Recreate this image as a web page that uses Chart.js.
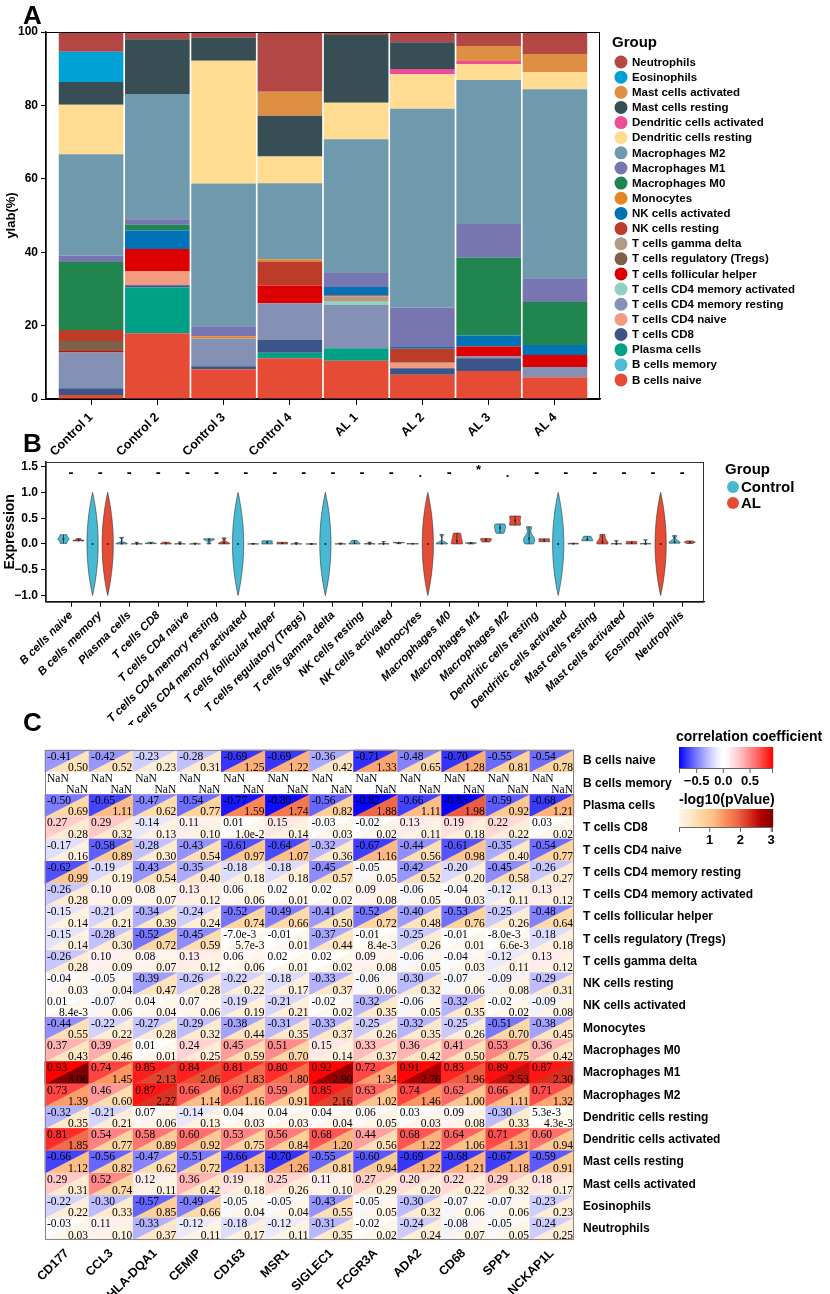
<!DOCTYPE html>
<html lang="en">
<head>
<meta charset="UTF-8" />
<title>Immune cell infiltration</title>
<script src="https://cdn.jsdelivr.net/npm/chart.js@4.4.1/dist/chart.umd.min.js"></script>
<style>
  body { margin: 0; background: #fff; }
  #wrap { position: relative; width: 830px; height: 1294px; overflow: hidden; }
  canvas { position: absolute; left: 0; }
  .tag { position: absolute; left: 23px; font: bold 26px/1 "Liberation Sans", Arial, sans-serif; color: #000; }
</style>
</head>
<body>
<div id="wrap">
  <canvas id="chartA" width="830" height="470" style="top:0"></canvas>
  <canvas id="chartB" width="830" height="285" style="top:440px"></canvas>
  <canvas id="chartC" width="830" height="569" style="top:725px"></canvas>
  <div class="tag" style="top:2px">A</div>
  <div class="tag" style="top:430px">B</div>
  <div class="tag" style="top:709px">C</div>
</div>
<script>
// ---------- data ----------
const samples = ['Control 1', 'Control 2', 'Control 3', 'Control 4', 'AL 1', 'AL 2', 'AL 3', 'AL 4'];
const cellTypes = ['B cells naive', 'B cells memory', 'Plasma cells', 'T cells CD8', 'T cells CD4 naive',
  'T cells CD4 memory resting', 'T cells CD4 memory activated', 'T cells follicular helper',
  'T cells regulatory (Tregs)', 'T cells gamma delta', 'NK cells resting', 'NK cells activated',
  'Monocytes', 'Macrophages M0', 'Macrophages M1', 'Macrophages M2', 'Dendritic cells resting',
  'Dendritic cells activated', 'Mast cells resting', 'Mast cells activated', 'Eosinophils', 'Neutrophils'];

// percent of each sample (order as samples)
const bCellsNaive     = [1.1, 17.9, 8.1, 11.1, 10.4, 6.6, 7.6, 5.9];
const bCellsMemory    = [0, 0, 0, 0, 0, 0, 0, 0];
const plasmaCells     = [0, 12.5, 0, 1.5, 3.4, 0, 0, 0];
const tCellsCD8       = [1.8, 0.6, 0.8, 3.5, 0, 1.8, 3.5, 0];
const tCD4Naive       = [0, 3.9, 0, 0, 0, 1.5, 0, 0];
const tCD4MemResting  = [9.8, 0, 7.6, 10.0, 11.8, 0, 0.5, 2.8];
const tCD4MemActive   = [0, 0, 0, 0, 0.9, 0, 0, 0];
const tFollicular     = [0.4, 6.0, 0, 4.8, 0, 0, 2.7, 3.3];
const tRegs           = [2.7, 0, 0, 0, 0, 0.2, 0, 0];
const tGammaDelta     = [0, 0, 0, 0, 1.5, 0, 0, 0];
const nkResting       = [3.0, 0, 0, 6.6, 0.3, 3.6, 0, 0];
const nkActivated     = [0, 5.0, 0, 0, 2.2, 0.5, 3.0, 2.7];
const monocytes       = [0, 0, 0.6, 0.6, 0, 0, 0, 0];
const macroM0         = [18.5, 1.6, 0, 0, 0, 0, 21.2, 11.7];
const macroM1         = [1.8, 1.5, 2.7, 0, 3.8, 10.7, 9.2, 6.5];
const macroM2         = [27.6, 34.1, 38.9, 20.7, 36.5, 54.2, 39.2, 51.5];
const dcResting       = [13.5, 0, 33.5, 7.3, 9.9, 9.4, 4.4, 4.6];
const dcActivated     = [0, 0, 0, 0, 0, 1.4, 0.8, 0];
const mastResting     = [6.2, 14.9, 6.2, 11.1, 18.5, 7.3, 0, 0];
const mastActivated   = [0, 0, 0, 6.5, 0, 0, 4.1, 5.0];
const eosinophils     = [8.2, 0, 0, 0, 0, 0, 0, 0];
const neutrophils     = [5.5, 1.9, 1.5, 16.2, 0.9, 3.0, 3.9, 5.9];

const cellData = [bCellsNaive, bCellsMemory, plasmaCells, tCellsCD8, tCD4Naive, tCD4MemResting,
  tCD4MemActive, tFollicular, tRegs, tGammaDelta, nkResting, nkActivated, monocytes, macroM0,
  macroM1, macroM2, dcResting, dcActivated, mastResting, mastActivated, eosinophils, neutrophils];

const cellColors = ['#E64B35', '#4DBBD5', '#00A087', '#3C5488', '#F39B7F', '#8491B4', '#91D1C2',
  '#DC0000', '#7E6148', '#B09C85', '#BC3C29', '#0072B5', '#E18727', '#20854E', '#7876B1',
  '#6F99AD', '#FFDC91', '#EE4C97', '#374E55', '#DF8F44', '#00A1D5', '#B24745'];

const yTicksA = [0, 20, 40, 60, 80, 100];
const yTicksB = [-1.0, -0.5, 0.0, 0.5, 1.0, 1.5];
const sigMarks = ['-', '-', '-', '-', '-', '-', '-', '-', '-', '-', '-', '-', '.', '-', '*', '.', '-', '-', '-', '-', '-', '-'];

const genes = ['CD177', 'CCL3', 'HLA-DQA1', 'CEMIP', 'CD163', 'MSR1', 'SIGLEC1', 'FCGR3A', 'ADA2', 'CD68', 'SPP1', 'NCKAP1L'];
const N = null;
const corrValues = [
  [-0.41, -0.42, -0.23, -0.28, -0.69, -0.69, -0.36, -0.71, -0.48, -0.70, -0.55, -0.54],
  [N, N, N, N, N, N, N, N, N, N, N, N],
  [-0.50, -0.65, -0.47, -0.54, -0.77, -0.80, -0.56, -0.82, -0.66, -0.83, -0.59, -0.68],
  [0.27, 0.29, -0.14, 0.11, 0.01, 0.15, -0.03, -0.02, 0.13, 0.19, 0.22, 0.03],
  [-0.17, -0.58, -0.28, -0.43, -0.61, -0.64, -0.32, -0.67, -0.44, -0.61, -0.35, -0.54],
  [-0.62, -0.19, -0.43, -0.35, -0.18, -0.18, -0.45, -0.05, -0.42, -0.20, -0.45, -0.26],
  [-0.26, 0.10, 0.08, 0.13, 0.06, 0.02, 0.02, 0.09, -0.06, -0.04, -0.12, 0.13],
  [-0.15, -0.21, -0.34, -0.24, -0.52, -0.49, -0.41, -0.52, -0.40, -0.53, -0.25, -0.48],
  [-0.15, -0.28, -0.52, -0.45, -0.007, -0.01, -0.37, -0.01, -0.25, -0.01, -0.008, -0.18],
  [-0.26, 0.10, 0.08, 0.13, 0.06, 0.02, 0.02, 0.09, -0.06, -0.04, -0.12, 0.13],
  [-0.04, -0.05, -0.39, -0.26, -0.22, -0.18, -0.33, -0.06, -0.30, -0.07, -0.09, -0.29],
  [0.01, -0.07, 0.04, 0.07, -0.19, -0.21, -0.02, -0.32, -0.06, -0.32, -0.02, -0.09],
  [-0.44, -0.22, -0.27, -0.29, -0.38, -0.31, -0.33, -0.25, -0.32, -0.25, -0.51, -0.38],
  [0.37, 0.39, 0.01, 0.24, 0.45, 0.51, 0.15, 0.33, 0.36, 0.41, 0.53, 0.36],
  [0.93, 0.74, 0.85, 0.84, 0.81, 0.80, 0.92, 0.72, 0.91, 0.83, 0.89, 0.87],
  [0.73, 0.46, 0.87, 0.66, 0.67, 0.59, 0.85, 0.63, 0.74, 0.62, 0.66, 0.71],
  [-0.32, -0.21, 0.07, -0.14, 0.04, 0.04, 0.04, 0.06, 0.03, 0.09, -0.30, 0.0053],
  [0.81, 0.54, 0.58, 0.60, 0.53, 0.56, 0.68, 0.44, 0.68, 0.64, 0.71, 0.60],
  [-0.66, -0.56, -0.47, -0.51, -0.66, -0.70, -0.55, -0.60, -0.69, -0.68, -0.67, -0.59],
  [0.29, 0.52, 0.12, 0.36, 0.19, 0.25, 0.11, 0.27, 0.20, 0.22, 0.29, 0.18],
  [-0.22, -0.30, -0.57, -0.49, -0.05, -0.05, -0.43, -0.05, -0.30, -0.07, -0.07, -0.23],
  [-0.03, 0.11, -0.33, -0.12, -0.18, -0.12, -0.31, -0.02, -0.24, -0.08, -0.05, -0.24]
];
// -log10(p)
const pValues = [
  [0.50, 0.52, 0.23, 0.31, 1.25, 1.22, 0.42, 1.33, 0.65, 1.28, 0.81, 0.78],
  [N, N, N, N, N, N, N, N, N, N, N, N],
  [0.69, 1.11, 0.62, 0.77, 1.59, 1.74, 0.82, 1.88, 1.11, 1.98, 0.92, 1.21],
  [0.28, 0.32, 0.13, 0.10, 0.00996, 0.14, 0.03, 0.02, 0.11, 0.18, 0.22, 0.02],
  [0.16, 0.89, 0.30, 0.54, 0.97, 1.07, 0.36, 1.16, 0.56, 0.98, 0.40, 0.77],
  [0.99, 0.19, 0.54, 0.40, 0.18, 0.18, 0.57, 0.05, 0.52, 0.20, 0.58, 0.27],
  [0.28, 0.09, 0.07, 0.12, 0.06, 0.01, 0.02, 0.08, 0.05, 0.03, 0.11, 0.12],
  [0.14, 0.21, 0.39, 0.24, 0.74, 0.66, 0.50, 0.72, 0.48, 0.76, 0.26, 0.64],
  [0.14, 0.30, 0.72, 0.59, 0.0057, 0.01, 0.44, 0.0084, 0.26, 0.01, 0.0066, 0.18],
  [0.28, 0.09, 0.07, 0.12, 0.06, 0.01, 0.02, 0.08, 0.05, 0.03, 0.11, 0.12],
  [0.03, 0.04, 0.47, 0.28, 0.22, 0.17, 0.37, 0.06, 0.32, 0.06, 0.08, 0.31],
  [0.0084, 0.06, 0.04, 0.06, 0.19, 0.21, 0.02, 0.35, 0.05, 0.35, 0.02, 0.08],
  [0.55, 0.22, 0.28, 0.32, 0.44, 0.35, 0.37, 0.26, 0.35, 0.26, 0.70, 0.45],
  [0.43, 0.46, 0.01, 0.25, 0.59, 0.70, 0.14, 0.37, 0.42, 0.50, 0.75, 0.42],
  [3.06, 1.45, 2.13, 2.06, 1.83, 1.80, 2.90, 1.34, 2.76, 1.96, 2.53, 2.30],
  [1.39, 0.60, 2.27, 1.14, 1.16, 0.91, 2.16, 1.02, 1.46, 1.00, 1.11, 1.32],
  [0.35, 0.21, 0.06, 0.13, 0.03, 0.03, 0.04, 0.05, 0.03, 0.08, 0.33, 0.0043],
  [1.85, 0.77, 0.89, 0.92, 0.75, 0.84, 1.20, 0.56, 1.22, 1.06, 1.31, 0.94],
  [1.12, 0.82, 0.62, 0.72, 1.13, 1.26, 0.81, 0.94, 1.22, 1.21, 1.18, 0.91],
  [0.31, 0.74, 0.11, 0.42, 0.18, 0.26, 0.10, 0.29, 0.20, 0.22, 0.32, 0.17],
  [0.22, 0.33, 0.85, 0.66, 0.04, 0.04, 0.55, 0.05, 0.32, 0.06, 0.06, 0.23],
  [0.03, 0.10, 0.37, 0.11, 0.17, 0.11, 0.35, 0.02, 0.24, 0.07, 0.05, 0.25]
];
const corrTicks = [-0.5, 0.0, 0.5];
const pTicks = [1, 2, 3];

// ---------- helpers ----------
const FAM = '"Liberation Sans", Arial, sans-serif';
Chart.defaults.font.family = FAM;
Chart.defaults.color = '#000';
const bold = (size, style) => ({ family: FAM, size: size, weight: 'bold', style: style || 'normal' });

const CORR_MIN = -0.83, CORR_MAX = 0.93, P_MAX = 3.06;
function corrColor(v) {
  if (v === null) return '#ffffff';
  if (v < 0) {
    const t = Math.pow(Math.min(1, -v / -CORR_MIN), 1.3);
    const c = Math.round(255 * (1 - t));
    return 'rgb(' + c + ',' + c + ',255)';
  }
  const t = Math.pow(Math.min(1, v / CORR_MAX), 1.3);
  const c = Math.round(255 * (1 - t));
  return 'rgb(255,' + c + ',' + c + ')';
}
const orRd = [[255,247,236],[254,232,200],[253,212,158],[253,187,132],[252,141,89],[239,101,72],[215,48,31],[179,0,0],[127,0,0]];
function pColor(v) {
  if (v === null) return '#ffffff';
  const t = Math.max(0, Math.min(1, v / P_MAX)) * (orRd.length - 1);
  const i = Math.min(orRd.length - 2, Math.floor(t)), f = t - i;
  const c = orRd[i].map((a, j) => Math.round(a + (orRd[i + 1][j] - a) * f));
  return 'rgb(' + c.join(',') + ')';
}
function fmt(v) {
  if (v === null) return 'NaN';
  if (v !== 0 && Math.abs(v) < 0.01) return v.toExponential(1);
  return v.toFixed(2);
}
function bwNrd0(xs) {
  const n = xs.length;
  const mean = xs.reduce((a, b) => a + b, 0) / n;
  const sd = Math.sqrt(xs.reduce((a, b) => a + (b - mean) * (b - mean), 0) / (n - 1));
  const s = xs.slice().sort((a, b) => a - b);
  const q = p => { const h = (n - 1) * p, lo = Math.floor(h); const nx = lo + 1 < n ? s[lo + 1] : s[lo]; return s[lo] + (h - lo) * (nx - s[lo]); };
  let lo = Math.min(sd, (q(0.75) - q(0.25)) / 1.34);
  if (!lo) lo = sd || 1;
  return 0.9 * lo * Math.pow(n, -0.2);
}

// ---------- panel A ----------
const frameA = {
  id: 'frameA',
  afterDraw(chart) {
    const { ctx, chartArea: a } = chart;
    ctx.save();
    ctx.strokeStyle = '#000';
    ctx.lineWidth = 1;
    ctx.strokeRect(a.left, a.top + 0.5, a.right - a.left - 0.5, a.bottom - a.top);
    // legend
    ctx.textBaseline = 'middle';
    ctx.fillStyle = '#000';
    ctx.font = 'bold 15px ' + FAM;
    ctx.fillText('Group', 612, 43);
    ctx.font = 'bold 11.5px ' + FAM;
    for (let i = 0; i < cellTypes.length; i++) {
      const k = cellTypes.length - 1 - i;
      const y = 62 + i * 15.14;
      ctx.beginPath();
      ctx.arc(621, y, 6.5, 0, Math.PI * 2);
      ctx.fillStyle = cellColors[k];
      ctx.fill();
      ctx.fillStyle = '#000';
      ctx.fillText(cellTypes[k], 632, y + 0.5);
    }
    ctx.restore();
  }
};

new Chart(document.getElementById('chartA'), {
  type: 'bar',
  data: {
    datasets: cellTypes.map((name, i) => ({
      label: name,
      data: cellData[i].map((v, j) => ({ x: j, y: v })),
      backgroundColor: cellColors[i],
      borderWidth: 0,
      categoryPercentage: 1,
      barPercentage: 0.975
    }))
  },
  options: {
    responsive: false,
    animation: false,
    events: [],
    layout: { padding: { left: 0, top: 32, right: 230, bottom: 0 } },
    plugins: { legend: { display: false }, tooltip: { enabled: false } },
    scales: {
      x: {
        type: 'linear', stacked: true, offset: false, min: -0.68, max: 7.68,
        afterBuildTicks: s => { s.ticks = samples.map((_, i) => ({ value: i })); },
        ticks: { autoSkip: false, minRotation: 45, maxRotation: 45, padding: 5, font: bold(12.5), color: '#000',
          callback: v => samples[v] },
        grid: { drawOnChartArea: false, offset: false, tickLength: 6, color: '#000' },
        border: { color: '#000', width: 1.5 },
        afterFit: s => { s.height = 71; }
      },
      y: {
        stacked: true, min: 0, max: 100,
        afterBuildTicks: s => { s.ticks = yTicksA.map(v => ({ value: v })); },
        ticks: { font: bold(12), color: '#000', padding: 3 },
        grid: { drawOnChartArea: false, tickLength: 5, color: '#000' },
        border: { color: '#000', width: 1.5 },
        title: { display: true, text: 'ylab(%)', font: bold(13), color: '#000', padding: { top: 4, bottom: 0 } },
        afterFit: s => { s.width = 46; }
      }
    }
  },
  plugins: [frameA]
});

// ---------- panel B ----------
const groups = [
  { name: 'Control', color: '#47B9D4', from: 0, to: 4, shift: -0.26 },
  { name: 'AL', color: '#E64B35', from: 4, to: 8, shift: 0.26 }
];

const violinPlugin = {
  id: 'violins',
  afterDatasetsDraw(chart) {
    const { ctx, scales: { x, y } } = chart;
    const half = 5.6;
    ctx.save();
    chart.data.datasets.forEach((ds, gi) => {
      const g = groups[gi];
      cellTypes.forEach((name, k) => {
        const vals = ds.data.filter(p => p.cell === k).map(p => p.y);
        const cx = x.getPixelForValue(k + g.shift);
        const lo = Math.min(...vals), hi = Math.max(...vals);
        const right = [];
        if (hi - lo < 1e-9) {
          // no spread: drawn as the full-height lens of the source figure
          for (let i = 0; i <= 40; i++) {
            const t = -1 + 2 * i / 40;
            right.push([half * (1 - t * t), y.getPixelForValue(lo + t)]);
          }
        } else {
          const bw = bwNrd0(vals);
          const dens = [];
          for (let i = 0; i <= 60; i++) {
            const v = lo + (hi - lo) * i / 60;
            let d = 0;
            vals.forEach(xi => { const z = (v - xi) / bw; d += Math.exp(-0.5 * z * z); });
            dens.push([d, y.getPixelForValue(v)]);
          }
          const dmax = Math.max(...dens.map(d => d[0]));
          dens.forEach(d => right.push([half * d[0] / dmax, d[1]]));
        }
        ctx.beginPath();
        right.forEach((p, i) => { if (i === 0) ctx.moveTo(cx + p[0], p[1]); else ctx.lineTo(cx + p[0], p[1]); });
        for (let i = right.length - 1; i >= 0; i--) ctx.lineTo(cx - right[i][0], right[i][1]);
        ctx.closePath();
        ctx.fillStyle = g.color;
        ctx.fill();
        ctx.strokeStyle = '#333';
        ctx.lineWidth = 0.6;
        ctx.stroke();
        if (hi - lo >= 1e-9) {
          ctx.beginPath();
          ctx.moveTo(cx, y.getPixelForValue(lo));
          ctx.lineTo(cx, y.getPixelForValue(hi));
          ctx.strokeStyle = '#222';
          ctx.lineWidth = 0.8;
          ctx.stroke();
        }
        const sorted = vals.slice().sort((a, b) => a - b);
        const med = (sorted[1] + sorted[2]) / 2;
        ctx.beginPath();
        ctx.arc(cx, y.getPixelForValue(med), 1, 0, Math.PI * 2);
        ctx.fillStyle = '#222';
        ctx.fill();
      });
    });
    // significance marks
    ctx.fillStyle = '#000';
    ctx.textAlign = 'center';
    ctx.textBaseline = 'middle';
    sigMarks.forEach((m, k) => {
      ctx.font = (m === '-' ? 'bold 15px ' : 'bold 13px ') + FAM;
      const yy = m === '*' ? 1.43 : (m === '.' ? 1.36 : 1.37);
      ctx.fillText(m, x.getPixelForValue(k), y.getPixelForValue(yy));
    });
    ctx.restore();
  },
  afterDraw(chart) {
    const { ctx, chartArea: a } = chart;
    ctx.save();
    ctx.strokeStyle = '#333';
    ctx.lineWidth = 1;
    ctx.strokeRect(a.left, a.top + 0.5, a.right - a.left - 0.5, a.bottom - a.top);
    ctx.textBaseline = 'middle';
    ctx.fillStyle = '#000';
    ctx.font = 'bold 15px ' + FAM;
    ctx.fillText('Group', 725, 30);
    groups.forEach((g, i) => {
      const yy = 47 + i * 16;
      ctx.beginPath();
      ctx.arc(733, yy, 6, 0, Math.PI * 2);
      ctx.fillStyle = g.color;
      ctx.fill();
      ctx.fillStyle = '#000';
      ctx.fillText(g.name, 741, yy + 0.5);
    });
    ctx.restore();
  }
};

new Chart(document.getElementById('chartB'), {
  type: 'scatter',
  data: {
    datasets: groups.map(g => ({
      label: g.name,
      data: cellData.flatMap((arr, k) => arr.slice(g.from, g.to).map(v => ({ x: k + g.shift, y: v / 100, cell: k }))),
      pointRadius: 0
    }))
  },
  options: {
    responsive: false,
    animation: false,
    events: [],
    layout: { padding: { left: 0, top: 22, right: 126, bottom: 0 } },
    plugins: { legend: { display: false }, tooltip: { enabled: false } },
    scales: {
      x: {
        type: 'linear', offset: false, min: -0.86, max: 21.75,
        afterBuildTicks: s => { s.ticks = cellTypes.map((_, i) => ({ value: i })); },
        ticks: { autoSkip: false, minRotation: 45, maxRotation: 45, padding: 2, font: bold(11.5, 'italic'), color: '#000',
          callback: v => cellTypes[v] },
        grid: { drawOnChartArea: false, tickLength: 5, color: '#000' },
        border: { color: '#000', width: 1.2 },
        afterFit: s => { s.height = 123.3; }
      },
      y: {
        min: -1.12, max: 1.59,
        afterBuildTicks: s => { s.ticks = yTicksB.map(v => ({ value: v })); },
        ticks: { font: bold(12), color: '#000', padding: 3, callback: v => v.toFixed(1).replace('-', '\u2212') },
        grid: { drawOnChartArea: false, tickLength: 5, color: '#000' },
        border: { color: '#000', width: 1.5 },
        title: { display: true, text: 'Expression', font: bold(14), color: '#000', padding: { top: 2, bottom: 0 } },
        afterFit: s => { s.width = 46; }
      }
    }
  },
  plugins: [violinPlugin]
});

// ---------- panel C ----------
const heatPlugin = {
  id: 'heat',
  afterDatasetsDraw(chart) {
    const { ctx, scales: { x, y } } = chart;
    ctx.save();
    chart.data.datasets[0].data.forEach(cell => {
      const x0 = x.getPixelForValue(cell.x - 0.5), x1 = x.getPixelForValue(cell.x + 0.5);
      const y0 = y.getPixelForValue(cell.y - 0.5), y1 = y.getPixelForValue(cell.y + 0.5);
      ctx.fillStyle = pColor(cell.p);
      ctx.fillRect(x0 - 0.3, y0 - 0.3, x1 - x0 + 0.6, y1 - y0 + 0.6);
      ctx.beginPath();
      ctx.moveTo(x0 - 0.3, y0 - 0.3);
      ctx.lineTo(x1 + 0.3, y0 - 0.3);
      ctx.lineTo(x0 - 0.3, y1 + 0.3);
      ctx.closePath();
      ctx.fillStyle = corrColor(cell.r);
      ctx.fill();
    });
    ctx.fillStyle = '#000';
    ctx.font = '11.5px "Liberation Serif", "Times New Roman", serif';
    ctx.textBaseline = 'alphabetic';
    chart.data.datasets[0].data.forEach(cell => {
      const x0 = x.getPixelForValue(cell.x - 0.5), x1 = x.getPixelForValue(cell.x + 0.5);
      const y0 = y.getPixelForValue(cell.y - 0.5), y1 = y.getPixelForValue(cell.y + 0.5);
      ctx.textAlign = 'left';
      ctx.fillText(fmt(cell.r), x0 + 2, y0 + 9.5);
      ctx.textAlign = 'right';
      ctx.fillText(fmt(cell.p), x1 - 1, y1 - 1.5);
    });
    const a = chart.chartArea;
    ctx.strokeStyle = '#888';
    ctx.lineWidth = 1;
    ctx.strokeRect(a.left + 0.5, a.top + 0.5, a.right - a.left - 1, a.bottom - a.top - 1);
    ctx.restore();
  },
  afterDraw(chart) {
    const ctx = chart.ctx;
    ctx.save();
    const L = 679, R = 773;
    const bars = [
      { title: 'correlation coefficient', tx: 676, ty: 12, top: 22, h: 21, lo: CORR_MIN, hi: CORR_MAX, col: corrColor, ticks: corrTicks, lab: v => v.toFixed(1).replace('-', '\u2212'), ly: 56 },
      { title: '-log10(pValue)', tx: 679, ty: 75, top: 84, h: 18, lo: 0, hi: P_MAX, col: pColor, ticks: pTicks, lab: v => String(v), ly: 115 }
    ];
    bars.forEach(b => {
      ctx.fillStyle = '#000';
      ctx.font = 'bold 14px ' + FAM;
      ctx.textAlign = 'left';
      ctx.textBaseline = 'middle';
      ctx.fillText(b.title, b.tx, b.ty);
      for (let px = L; px < R; px++) {
        const v = b.lo + (b.hi - b.lo) * (px - L + 0.5) / (R - L);
        ctx.fillStyle = b.col(v);
        ctx.fillRect(px, b.top, 1.2, b.h);
      }
      ctx.strokeStyle = '#666';
      ctx.lineWidth = 1;
      ctx.beginPath();
      ctx.moveTo(L, b.top + b.h + 0.5);
      ctx.lineTo(R, b.top + b.h + 0.5);
      const tickAt = px => { ctx.moveTo(px, b.top + b.h); ctx.lineTo(px, b.top + b.h + 5); };
      tickAt(L + 0.5); tickAt(R - 0.5);
      b.ticks.forEach(v => tickAt(L + (v - b.lo) / (b.hi - b.lo) * (R - L)));
      ctx.stroke();
      ctx.fillStyle = '#000';
      ctx.font = 'bold 13px ' + FAM;
      ctx.textAlign = 'center';
      b.ticks.forEach(v => ctx.fillText(b.lab(v), L + (v - b.lo) / (b.hi - b.lo) * (R - L), b.ly));
    });
    ctx.restore();
  }
};

const heatCells = [];
cellTypes.forEach((name, r) => genes.forEach((gname, c) => {
  heatCells.push({ x: c, y: r, r: corrValues[r][c], p: pValues[r][c] });
}));

new Chart(document.getElementById('chartC'), {
  type: 'scatter',
  data: { datasets: [{ label: 'cells', data: heatCells, pointRadius: 0 }] },
  options: {
    responsive: false,
    animation: false,
    events: [],
    layout: { padding: { left: 45, top: 25, right: 0, bottom: 0 } },
    plugins: { legend: { display: false }, tooltip: { enabled: false } },
    scales: {
      x: {
        type: 'linear', offset: false, min: -0.5, max: 11.5,
        afterBuildTicks: s => { s.ticks = genes.map((_, i) => ({ value: i })); },
        ticks: { autoSkip: false, minRotation: 45, maxRotation: 45, padding: 6, font: bold(12.5), color: '#000',
          callback: v => genes[v] },
        grid: { display: false, drawTicks: false },
        border: { display: false },
        afterFit: s => { s.height = 54; }
      },
      y: {
        type: 'linear', position: 'right', reverse: true, min: -0.5, max: 21.5,
        afterBuildTicks: s => { s.ticks = cellTypes.map((_, i) => ({ value: i })); },
        ticks: { autoSkip: false, padding: 9, font: bold(12), color: '#000', callback: v => cellTypes[v] },
        grid: { display: false, drawTicks: false },
        border: { display: false },
        afterFit: s => { s.width = 256; }
      }
    }
  },
  plugins: [heatPlugin]
});
</script>
</body>
</html>
